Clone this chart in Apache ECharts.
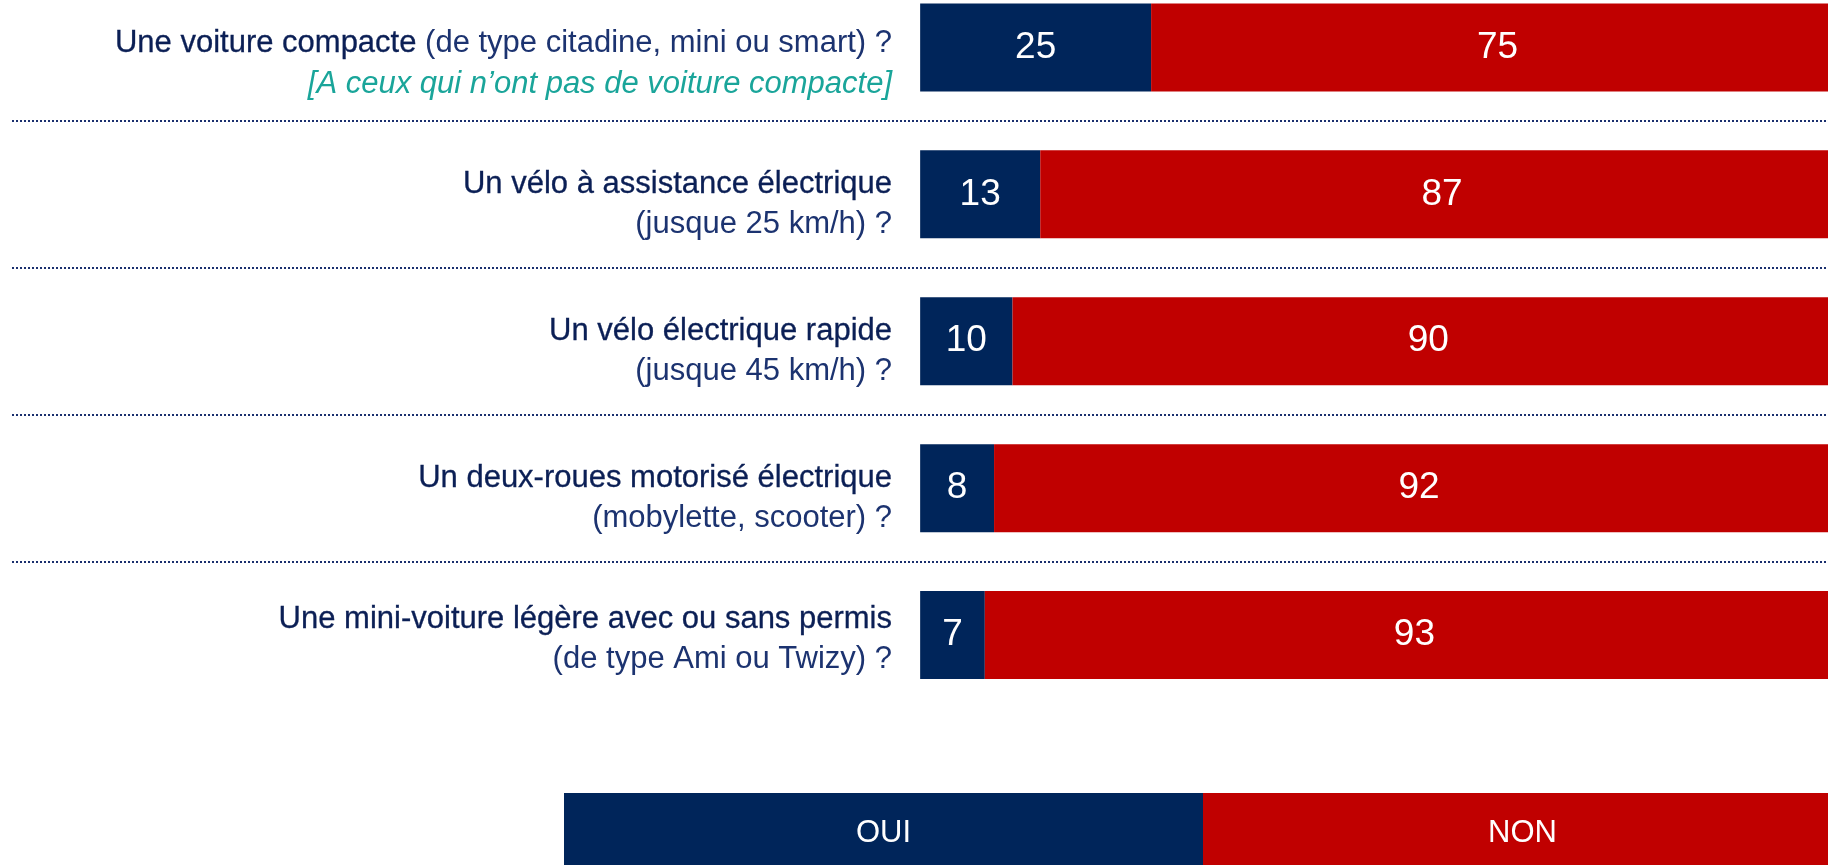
<!DOCTYPE html>
<html>
<head>
<meta charset="utf-8">
<script src="https://cdn.jsdelivr.net/npm/echarts@6/dist/echarts.min.js"></script>
<style>
  html, body { margin: 0; padding: 0; background: #fff; }
  #chart { width: 1828px; height: 865px; }
</style>
</head>
<body>
<div id="chart"></div>
<script>
  // questions (ligne principale + précision)
  const categories = [
    'Une voiture compacte',
    'Un vélo à assistance électrique',
    'Un vélo électrique rapide',
    'Un deux-roues motorisé électrique',
    'Une mini-voiture légère avec ou sans permis'
  ]
  const details = [
    '(de type citadine, mini ou smart) ?',
    '(jusque 25 km/h) ?',
    '(jusque 45 km/h) ?',
    '(mobylette, scooter) ?',
    '(de type Ami ou Twizy) ?'
  ]
  const note = '[A ceux qui n’ont pas de voiture compacte]'
  const ouiValues = [25, 13, 10, 8, 7]
  const nonValues = [75, 87, 90, 92, 93]

  const NAVY = '#00255a'
  const RED = '#c00000'
  const FONT = "'Liberation Sans', Arial, sans-serif"

  var myChart = echarts.init(document.getElementById('chart'))

  const barLabel = {
    show: true,
    position: 'inside',
    color: '#fff',
    fontSize: 37,
    fontFamily: FONT
  }

  let myOption = {
    animation: false,
    //图形位置 : l'axe x commence à gauche pour que les séparateurs traversent tout
    grid: {
      left: 12,
      right: -16,
      top: -26,
      height: 734.5,
      containLabel: false,
      outerBoundsMode: 'none'
    },
    xAxis: {
      type: 'value',
      min: -98.3,
      max: 100,
      show: false
    },
    yAxis: {
      type: 'category',
      inverse: true,
      data: categories,
      offset: -908,
      axisLine: { show: false },
      axisTick: { show: false },
      splitLine: {
        show: true,
        showMinLine: false,
        showMaxLine: false,
        lineStyle: { color: '#1a2f6e', width: 2, type: [2, 2] }
      },
      axisLabel: {
        margin: 28,
        align: 'right',
        padding: [20, 0, 0, 0],
        fontFamily: FONT,
        formatter: function (value, index) {
          if (index === 0) {
            return '{main0|' + value + '}{sub0| ' + details[index] + '}\n{note|' + note + '}'
          }
          if (index === 4) {
            return '{main4|' + value + '}\n{sub4|' + details[index] + '}'
          }
          return '{main|' + value + '}\n{sub|' + details[index] + '}'
        },
        rich: {
          main: {
            fontSize: 31, lineHeight: 40, color: '#0b1f55', fontFamily: FONT,
            textBorderColor: '#0b1f55', textBorderWidth: 0.3
          },
          sub: { fontSize: 31, lineHeight: 40, color: '#1c3370', fontFamily: FONT },
          main0: {
            fontSize: 31, lineHeight: 54, color: '#0b1f55', fontFamily: FONT,
            textBorderColor: '#0b1f55', textBorderWidth: 0.3
          },
          sub0: { fontSize: 31, lineHeight: 54, color: '#1c3370', fontFamily: FONT },
          note: { fontSize: 31, lineHeight: 28, color: '#1aa59a', fontStyle: 'italic', fontFamily: FONT },
          main4: {
            fontSize: 31, lineHeight: 28, color: '#0b1f55', fontFamily: FONT,
            textBorderColor: '#0b1f55', textBorderWidth: 0.3
          },
          sub4: { fontSize: 31, lineHeight: 52, color: '#1c3370', fontFamily: FONT }
        }
      }
    },
    legend: {
      left: 559,
      top: 793,
      width: 2000,
      padding: 0,
      itemGap: -5,
      itemWidth: 0,
      itemHeight: 0,
      selectedMode: false,
      data: ['OUI', 'NON'],
      formatter: function (name) {
        return name === 'OUI' ? '{o|OUI}' : '{n|NON}'
      },
      textStyle: {
        rich: {
          o: {
            width: 639, height: 80, lineHeight: 80, align: 'center',
            backgroundColor: NAVY, color: '#fff', fontSize: 31, fontFamily: FONT
          },
          n: {
            width: 639, height: 80, lineHeight: 80, align: 'center',
            backgroundColor: RED, color: '#fff', fontSize: 31, fontFamily: FONT
          }
        }
      }
    },
    series: [
      {
        name: 'OUI',
        type: 'bar',
        stack: 'total',
        barWidth: 88,
        itemStyle: { color: NAVY },
        label: barLabel,
        data: ouiValues
      },
      {
        name: 'NON',
        type: 'bar',
        stack: 'total',
        barWidth: 88,
        itemStyle: { color: RED },
        label: barLabel,
        data: nonValues
      }
    ]
  }
  myChart.setOption(myOption)
</script>
</body>
</html>
